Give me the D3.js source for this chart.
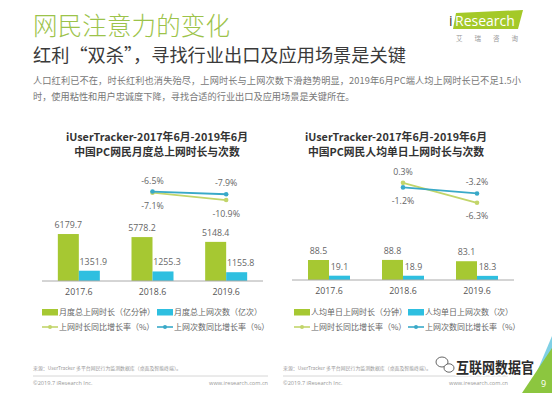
<!DOCTYPE html>
<html><head><meta charset="utf-8">
<script src="https://cdn.jsdelivr.net/npm/d3@7"></script>
<style>
html,body{margin:0;padding:0;background:#fff;}
svg{display:block;font-family:"Noto Sans CJK SC","Noto Sans",sans-serif;}
</style></head>
<body>
<script>
// ---------- data ----------
const categories = ["2017.6", "2018.6", "2019.6"];
const leftDuration = [6179.7, 5778.2, 5148.4];      // 月度总上网时长（亿分钟）
const leftCount = [1351.9, 1255.3, 1155.8];         // 月度总上网次数（亿次）
const leftDurGrowth = [null, -7.1, -10.9];          // 上网时长同比增长率
const leftCntGrowth = [null, -6.5, -7.9];           // 上网次数同比增长率
const rightDuration = [88.5, 88.8, 83.1];           // 人均单日上网时长（分钟）
const rightCount = [19.1, 18.9, 18.3];              // 人均单日上网次数（次）
const rightDurGrowth = [null, 0.3, -6.3];
const rightCntGrowth = [null, -1.2, -3.2];

const leftTitle = ["iUserTracker-2017年6月-2019年6月", "中国PC网民月度总上网时长与次数"];
const rightTitle = ["iUserTracker-2017年6月-2019年6月", "中国PC网民人均单日上网时长与次数"];
const leftLegend = ["月度总上网时长（亿分钟）", "月度总上网次数（亿次）", "上网时长同比增长率（%）", "上网次数同比增长率（%）"];
const rightLegend = ["人均单日上网时长（分钟）", "人均单日上网次数（次）", "上网时长同比增长率（%）", "上网次数同比增长率（%）"];

const GREEN = "#a6c832", BLUE = "#2ebfe0", LGREEN = "#c2d56a", LBLUE = "#39a9c8";

const W = 552, H = 393;
const svg = d3.select("body").append("svg").attr("width", W).attr("height", H);

// ---------- header ----------
svg.append("text").attr("x", 33).attr("y", 35).attr("font-size", 24.5).attr("font-weight", 300)
  .attr("fill", "#9cc34a").attr("textLength", 197).attr("lengthAdjust", "spacing").text("网民注意力的变化");
svg.append("text").attr("x", 33).attr("y", 62).attr("font-size", 18.2).attr("fill", "#3a3a3a")
  .text("红利“双杀”，寻找行业出口及应用场景是关键");
svg.append("text").attr("x", 33).attr("y", 83.5).attr("font-size", 9.2).attr("fill", "#777")
  .attr("textLength", 488).attr("lengthAdjust", "spacing")
  .text("人口红利已不在，时长红利也消失殆尽，上网时长与上网次数下滑趋势明显，2019年6月PC端人均上网时长已不足1.5小");
svg.append("text").attr("x", 33).attr("y", 99.5).attr("font-size", 9.2).attr("fill", "#777")
  .text("时，使用粘性和用户忠诚度下降，寻找合适的行业出口及应用场景是关键所在。");

// logo
svg.append("polygon").attr("points", "456,13 523,10 518,29 453,29").attr("fill", "#a4c928");
svg.append("text").attr("x", 449).attr("y", 26).attr("font-size", 14).attr("font-family", "Open Sans, sans-serif")
  .attr("fill", "#333").text("i");
svg.append("text").attr("x", 455).attr("y", 26).attr("font-size", 14).attr("font-family", "Open Sans, sans-serif")
  .attr("fill", "#fff").text("Research");
svg.append("text").attr("x", 456).attr("y", 41).attr("font-size", 6.5).attr("fill", "#999")
  .attr("textLength", 62).attr("lengthAdjust", "spacing").text("艾瑞咨询");

// ---------- chart builder ----------
function drawChart(cfg) {
  const g = svg.append("g");
  const x = d3.scaleBand().domain(categories).range([cfg.x0, cfg.x1]);
  const sub = d3.scaleBand().domain(["dur", "cnt"]).range([-21, 21]);
  const y = d3.scaleLinear().domain([0, cfg.yMax]).range([cfg.base, cfg.base - cfg.yPx]);
  const yl = d3.scaleLinear().domain(cfg.lDomain).range(cfg.lRange);
  const cx = c => x(c) + x.bandwidth() / 2;

  // title
  cfg.title.forEach((t, i) => g.append("text").attr("x", cfg.titleX).attr("y", 140.5 + i * 15)
    .attr("text-anchor", "middle").attr("font-size", 10.8).attr("font-weight", 700).attr("fill", "#333").text(t));

  // bars
  const series = [{k: "dur", v: cfg.dur, c: GREEN, dx: 0}, {k: "cnt", v: cfg.cnt, c: BLUE, dx: cfg.cntDx}];
  series.forEach(s => {
    g.selectAll(null).data(categories).enter().append("rect")
      .attr("x", c => cx(c) + sub(s.k)).attr("width", sub.bandwidth())
      .attr("y", (c, i) => y(s.v[i])).attr("height", (c, i) => cfg.base - y(s.v[i]))
      .attr("fill", s.c);
    g.selectAll(null).data(categories).enter().append("text")
      .attr("x", c => cx(c) + sub(s.k) + sub.bandwidth() / 2 + s.dx)
      .attr("y", (c, i) => y(s.v[i]) - 6)
      .attr("text-anchor", "middle").attr("font-size", 8.8).attr("fill", "#666")
      .attr("font-family", "Open Sans, sans-serif")
      .text((c, i) => s.v[i].toFixed(1));
  });

  // axis
  const axis = g.append("g").attr("transform", `translate(0,${cfg.base})`)
    .call(d3.axisBottom(x).tickSize(0).tickPadding(8));
  axis.select(".domain").attr("stroke", "#aaa").attr("d", `M${cfg.axisX0},0H${cfg.x1}`);
  axis.selectAll("text").attr("font-size", 8.8).attr("fill", "#555").attr("font-family", "Open Sans, sans-serif");

  // growth lines
  const lines = [{v: cfg.durG, c: LGREEN, other: cfg.cntG}, {v: cfg.cntG, c: LBLUE, other: cfg.durG}];
  const line = d3.line().defined(d => d.v != null).x(d => cx(d.c)).y(d => yl(d.v));
  lines.forEach(L => {
    const pts = categories.map((c, i) => ({c, v: L.v[i], o: L.other[i]}));
    g.append("path").datum(pts).attr("d", line).attr("fill", "none").attr("stroke", L.c).attr("stroke-width", 1.8);
    const real = pts.filter(d => d.v != null);
    g.selectAll(null).data(real).enter().append("circle")
      .attr("cx", d => cx(d.c)).attr("cy", d => yl(d.v)).attr("r", 2.3).attr("fill", L.c);
    g.selectAll(null).data(real).enter().append("text")
      .attr("x", d => cx(d.c))
      .attr("y", d => d.v >= d.o ? yl(d.v) - 8 : yl(d.v) + 16.5)
      .attr("text-anchor", "middle").attr("font-size", 8.8).attr("fill", "#666")
      .attr("font-family", "Open Sans, sans-serif")
      .text(d => d.v.toFixed(1) + "%");
  });

  // legend
  const lg = g.append("g").attr("font-size", 8).attr("fill", "#666");
  const cols = [cfg.legX[0], cfg.legX[1]];
  [[0, GREEN], [1, BLUE]].forEach(([i, c]) => {
    lg.append("rect").attr("x", cols[i]).attr("y", 309).attr("width", 16).attr("height", 6.5).attr("fill", c);
    lg.append("text").attr("x", cols[i] + 17).attr("y", 315).attr("fill", "#666").text(cfg.legend[i]);
  });
  [[0, LGREEN], [1, LBLUE]].forEach(([i, c]) => {
    lg.append("line").attr("x1", cols[i]).attr("x2", cols[i] + 16).attr("y1", 327).attr("y2", 327)
      .attr("stroke", c).attr("stroke-width", 1.6);
    lg.append("circle").attr("cx", cols[i] + 8).attr("cy", 327).attr("r", 2).attr("fill", c);
    lg.append("text").attr("x", cols[i] + 17).attr("y", 330).attr("fill", "#666").text(cfg.legend[i + 2]);
  });

  // footer
  g.append("text").attr("x", cfg.footX0).attr("y", 370).attr("font-size", 4.9).attr("fill", "#999")
    .text("来源：UserTracker 多平台网民行为监测数据库（桌面及智能终端）。");
  g.append("line").attr("x1", cfg.footX0).attr("x2", cfg.footX1).attr("y1", 376).attr("y2", 376)
    .attr("stroke", "#ccc").attr("stroke-width", 0.8);
  g.append("text").attr("x", cfg.footX0).attr("y", 384.5).attr("font-size", 5.6).attr("fill", "#999")
    .attr("font-family", "Open Sans, sans-serif").text("©2019.7 iResearch Inc.");
  g.append("text").attr("x", cfg.footX1).attr("y", 384.5).attr("font-size", 5.6).attr("fill", "#999")
    .attr("text-anchor", "end").attr("font-family", "Open Sans, sans-serif").text("www.iresearch.com.cn");
}

drawChart({
  x0: 42, x1: 263, axisX0: 42, base: 281, yMax: 10000, yPx: 76,
  lDomain: [-15, 0], lRange: [208, 179],
  dur: leftDuration, cnt: leftCount, durG: leftDurGrowth, cntG: leftCntGrowth,
  cntDx: 4, title: leftTitle, titleX: 157, legend: leftLegend, legX: [42, 157],
  footX0: 33, footX1: 268
});
drawChart({
  x0: 292, x1: 514, axisX0: 292, base: 280, yMax: 100, yPx: 22.6,
  lDomain: [-10, 2], lRange: [214, 177.7],
  dur: rightDuration, cnt: rightCount, durG: rightDurGrowth, cntG: rightCntGrowth,
  cntDx: 0, title: rightTitle, titleX: 396, legend: rightLegend, legX: [294, 408],
  footX0: 283, footX1: 508
});

// ---------- watermark & corner ----------
svg.append("polygon").attr("points", "528,393 552,393 552,336").attr("fill", "#7fd0e4");
svg.append("polygon").attr("points", "522,393 552,393 552,348").attr("fill", "#8cc63f");
svg.append("text").attr("x", 541).attr("y", 387).attr("font-size", 9).attr("fill", "#fff")
  .attr("font-family", "Open Sans, sans-serif").text("9");

const wm = svg.append("g");
wm.append("ellipse").attr("cx", 442).attr("cy", 362).attr("rx", 6).attr("ry", 5).attr("fill", "none").attr("stroke", "#555").attr("stroke-width", 0.9);
wm.append("ellipse").attr("cx", 449).attr("cy", 368).attr("rx", 5).attr("ry", 4.2).attr("fill", "#fff").attr("stroke", "#555").attr("stroke-width", 0.9);
wm.append("text").attr("x", 456).attr("y", 373).attr("font-size", 14.5).attr("font-weight", 700)
  .attr("fill", "#2b2b2b").attr("stroke", "#fff").attr("stroke-width", 2.5).attr("paint-order", "stroke")
  .attr("textLength", 78).attr("lengthAdjust", "spacingAndGlyphs").text("互联网数据官");
</script>
</body></html>
